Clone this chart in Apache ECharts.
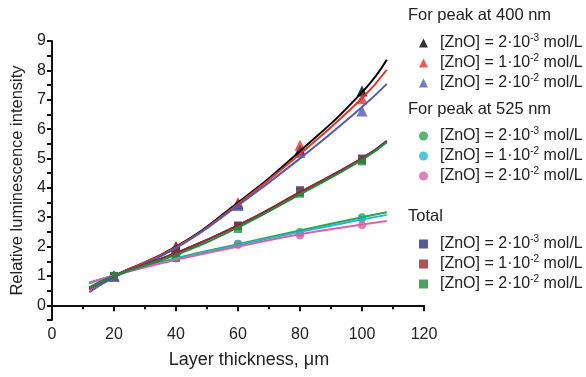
<!DOCTYPE html>
<html><head><meta charset="utf-8">
<script src="https://cdn.jsdelivr.net/npm/echarts@6/dist/echarts.min.js"></script>
<style>html,body{margin:0;padding:0;background:#fff}#c{width:586px;height:377px}</style>
</head><body><div id="c"></div>
<script>
// Measured sample thicknesses (µm)
var xPoints = [20, 40, 60, 80, 100];
var fitX = [12, 20, 40, 60, 80, 100, 108];

// Peak at 400 nm (triangles)
var p400a = [1.0, 2.0, 3.45, 5.3, 7.3];
var p400b = [1.0, 1.95, 3.5, 5.45, 7.03];
var p400c = [1.0, 1.9, 3.4, 5.2, 6.62];
var f400a = [0.55, 1.0, 2.0, 3.5, 5.25, 7.25, 8.36];
var f400b = [0.55, 1.0, 1.98, 3.45, 5.15, 7.05, 8.02];
var f400c = [0.45, 0.95, 1.95, 3.4, 5.0, 6.75, 7.54];

// Peak at 525 nm (circles)
var p525a = [1.0, 1.6, 2.1, 2.5, 3.0];
var p525b = [1.0, 1.6, 2.1, 2.45, 2.95];
var p525c = [1.0, 1.6, 2.05, 2.38, 2.73];
var f525a = [0.75, 1.02, 1.6, 2.08, 2.55, 3.0, 3.17];
var f525b = [0.75, 1.02, 1.58, 2.05, 2.5, 2.92, 3.08];
var f525c = [0.78, 1.02, 1.55, 2.0, 2.42, 2.75, 2.87];

// Total (squares)
var ptotA = [1.0, 1.85, 2.72, 3.92, 5.0];
var ptotB = [1.0, 1.8, 2.7, 3.85, 4.95];
var ptotC = [1.0, 1.62, 2.6, 3.8, 4.9];
var ftotA = [0.6, 1.0, 1.78, 2.72, 3.85, 5.0, 5.6];
var ftotB = [0.6, 1.0, 1.78, 2.72, 3.85, 5.0, 5.58];
var ftotC = [0.6, 1.0, 1.72, 2.65, 3.78, 4.95, 5.55];

var groupTitles = ['For peak at 400 nm', 'For peak at 525 nm', 'Total'];
var concLabels = ['[ZnO] = 2·10{s|-3} mol/L', '[ZnO] = 1·10{s|-2} mol/L', '[ZnO] = 2·10{s|-2} mol/L'];

var yTicks = [0,1,2,3,4,5,6,7,8,9];
var xTicks = [0,20,40,60,80,100,120];

function pairs(xs, ys){ return xs.map(function(x,i){ return [x, ys[i]]; }); }

var FONT = 'Liberation Sans';
var groups = [
  {key:'400', symbol:'triangle', size:11, pts:[p400a,p400b,p400c], fits:[f400a,f400b,f400c], colors:['#000000','#e5332a','#4f5db0']},
  {key:'525', symbol:'circle', size:8, pts:[p525a,p525b,p525c], fits:[f525a,f525b,f525c], colors:['#25a94c','#27b5d6','#d663a8']},
  {key:'tot', symbol:'rect', size:8, pts:[ptotA,ptotB,ptotC], fits:[ftotA,ftotB,ftotC], colors:['#2c2f80','#a0262e','#1f8b3c']}
];

var series = [];
var labelMap = {};
groups.forEach(function(g){
  for (var i=0;i<3;i++){
    var nm = g.key + '_' + i;
    labelMap[nm] = concLabels[i];
    series.push({name: nm, type:'scatter', symbol:g.symbol, symbolSize:g.size,
      itemStyle:{color:g.colors[i]}, data:pairs(xPoints, g.pts[i]), z:2});
    series.push({name: nm + '_fit', type:'line', smooth:true, showSymbol:false, symbol:'none',
      lineStyle:{color:g.colors[i], width:2}, data:pairs(fitX, g.fits[i]), z:3});
  }
});

var legendTops = [28, 121, 229];
var legends = groups.map(function(g, gi){
  return {
    orient:'vertical', left:414, top:legendTops[gi], itemGap:0,
    itemWidth:9, itemHeight:9, icon: g.symbol,
    data:[g.key+'_0', g.key+'_1', g.key+'_2'],
    selectedMode:false,
    formatter:function(n){ return labelMap[n]; },
    textStyle:{fontFamily:FONT, fontSize:16, lineHeight:20, color:'#222', padding:[0,0,0,7],
      rich:{s:{fontSize:10, lineHeight:10, padding:[0,0,10,0], color:'#222', fontFamily:FONT}}}
  };
});

var chart = echarts.init(document.getElementById('c'), null, {renderer:'canvas'});
chart.setOption({
  animation:false,
  backgroundColor:'#fff',
  grid:{left:52, right:162, top:41, bottom:57, containLabel:false, outerBoundsMode:'none'},
  xAxis:{type:'value', min:0, max:120, interval:20,
    name:'Layer thickness, μm', nameLocation:'middle', nameGap:31,
    nameTextStyle:{fontFamily:FONT, fontSize:18, color:'#222', padding:[0,0,0,22]},
    axisLine:{show:true, lineStyle:{color:'#111', width:2}},
    axisTick:{show:true, length:6, lineStyle:{color:'#111', width:2}},
    minorTick:{show:true, splitNumber:2, length:4, lineStyle:{color:'#111', width:2}},
    axisLabel:{fontFamily:FONT, fontSize:16, color:'#222', margin:7,
      formatter:function(v){ return xTicks.indexOf(v)>=0 ? String(v) : ''; }},
    splitLine:{show:false}},
  yAxis:{type:'value', min:-0.5, max:9, interval:0.5,
    name:'Relative luminescence intensity', nameLocation:'middle', nameGap:24,
    nameTextStyle:{fontFamily:FONT, fontSize:16.5, color:'#222'},
    axisLine:{show:true, lineStyle:{color:'#111', width:2}},
    axisTick:{show:true, length:5, lineStyle:{color:'#111', width:2}},
    axisLabel:{fontFamily:FONT, fontSize:16, color:'#222', margin:6,
      formatter:function(v){ return yTicks.indexOf(v)>=0 ? String(v) : ''; }},
    splitLine:{show:false}},
  legend: legends,
  graphic:[
    {type:'text', left:408, top:7, style:{text:groupTitles[0], fontFamily:FONT, fontSize:16.5, fill:'#222'}},
    {type:'text', left:408, top:101, style:{text:groupTitles[1], fontFamily:FONT, fontSize:16.5, fill:'#222'}},
    {type:'text', left:408, top:208, style:{text:groupTitles[2], fontFamily:FONT, fontSize:16.5, fill:'#222'}}
  ],
  series: series
});
</script></body></html>
